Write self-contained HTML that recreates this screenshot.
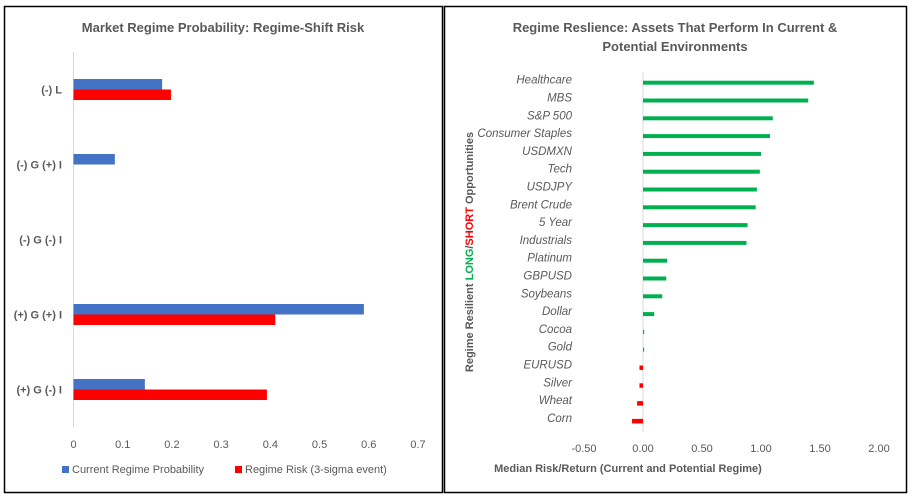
<!DOCTYPE html>
<html><head><meta charset="utf-8"><style>
html,body{margin:0;padding:0;background:#fff;width:915px;height:499px;overflow:hidden}
svg{display:block}
text{font-family:"Liberation Sans",sans-serif}
</style></head><body>
<svg width="915" height="499" viewBox="0 0 915 499">
<rect x="4.5" y="6.5" width="438" height="486" fill="#fff" stroke="#000" stroke-width="1.5"/>
<rect x="444.5" y="6.5" width="462" height="486" fill="#fff" stroke="#000" stroke-width="1.5"/>
<text x="223" y="32" text-anchor="middle" font-size="13" font-weight="bold" fill="#595959">Market Regime Probability: Regime-Shift Risk</text>
<text x="675" y="32" text-anchor="middle" font-size="13" font-weight="bold" fill="#595959">Regime Reslience: Assets That Perform In Current &amp;</text>
<text x="675" y="51" text-anchor="middle" font-size="13" font-weight="bold" fill="#595959">Potential Environments</text>
<g id="left"></g>
<g id="right"></g>
<rect x="62" y="466" width="7" height="7" fill="#4472c4"/>
<text x="72" y="473" font-size="11" fill="#595959">Current Regime Probability</text>
<rect x="235" y="466" width="7" height="7" fill="#ff0000"/>
<text x="245" y="473" font-size="11" fill="#595959">Regime Risk (3-sigma event)</text>
<text x="628" y="472" text-anchor="middle" font-size="11" font-weight="bold" fill="#595959">Median Risk/Return (Current and Potential Regime)</text>
<text transform="translate(473,252) rotate(-90)" text-anchor="middle" font-size="11" font-weight="bold" fill="#595959">Regime Resilient <tspan fill="#00b050">LONG</tspan>/<tspan fill="#ff0000">SHORT</tspan> Opportunities</text>
</svg>
<script>
const regimes = ["(-) L","(-) G (+) I","(-) G (-) I","(+) G (+) I","(+) G (-) I"];
const currentProb = [0.18,0.084,0,0.59,0.145];
const regimeRisk = [0.198,0,0,0.41,0.393];
const leftTicks = [0,0.1,0.2,0.3,0.4,0.5,0.6,0.7];

const assets = ["Healthcare","MBS","S&P 500","Consumer Staples","USDMXN","Tech","USDJPY","Brent Crude","5 Year","Industrials","Platinum","GBPUSD","Soybeans","Dollar","Cocoa","Gold","EURUSD","Silver","Wheat","Corn"];
const assetValues = [1.448,1.40,1.10,1.076,1.00,0.99,0.965,0.955,0.886,0.877,0.205,0.197,0.163,0.095,0.01,0.01,-0.03,-0.03,-0.05,-0.093];
const rightTicks = [-0.5,0,0.5,1,1.5,2];
const rightTickLabels = ["-0.50","0.00","0.50","1.00","1.50","2.00"];

const NS="http://www.w3.org/2000/svg";
function mk(parent,tag,attrs,txt){const e=document.createElementNS(NS,tag);for(const k in attrs)e.setAttribute(k,attrs[k]);if(txt!==undefined)e.textContent=txt;parent.appendChild(e);return e;}

// left chart
const L=document.getElementById('left');
const lx=v=>73.5+v*(344.5/0.7);
const bandTop=52, band=75;
const ly=i=>bandTop+i*band;
mk(L,'line',{x1:73.5,x2:73.5,y1:52,y2:427,stroke:'#d9d9d9','stroke-width':1});
leftTicks.forEach(t=>{
 const e=mk(L,'text',{x:lx(t),y:448,'text-anchor':'middle','font-size':11,fill:'#595959'},String(t));
 
 
});
regimes.forEach((r,i)=>{
 const c=ly(i)+band/2;
 const t=mk(L,'text',{x:62,y:c+4,'text-anchor':'end','font-size':11,'font-weight':'bold',fill:'#595959'},r);
 
 
 if(currentProb[i]>0){const b=mk(L,'rect',{x:lx(0),y:c-10.5,width:lx(currentProb[i])-lx(0),height:10.5,fill:'#4472c4'});
 
 }
 if(regimeRisk[i]>0){const b=mk(L,'rect',{x:lx(0),y:c,width:lx(regimeRisk[i])-lx(0),height:10.5,fill:'#ff0000'});
 
 }
});

// right chart
const R=document.getElementById('right');
const rx=v=>643+v*118;
const ry=i=>82.7+i*17.8;
mk(R,'line',{x1:643,x2:643,y1:72,y2:432,stroke:'#d9d9d9','stroke-width':1});
rightTicks.forEach((t,i)=>{
 const e=mk(R,'text',{x:rx(t),y:452,'text-anchor':'middle','font-size':11,fill:'#595959'},rightTickLabels[i]);
 
 
});
assets.forEach((a,i)=>{
 const c=ry(i);
 const t=mk(R,'text',{x:572,y:c+1,'text-anchor':'end','font-size':11.5,'font-style':'italic',fill:'#595959'},a);
 
 
 const v=assetValues[i];
 const x0=Math.min(rx(0),rx(v)), w=Math.abs(rx(v)-rx(0));
 const b=mk(R,'rect',{x:x0,y:c-2,width:Math.max(w,1),height:v<0?4.5:4,fill:v<0?'#ff0000':'#00b050'});
 
 
});
</script>
</body></html>
